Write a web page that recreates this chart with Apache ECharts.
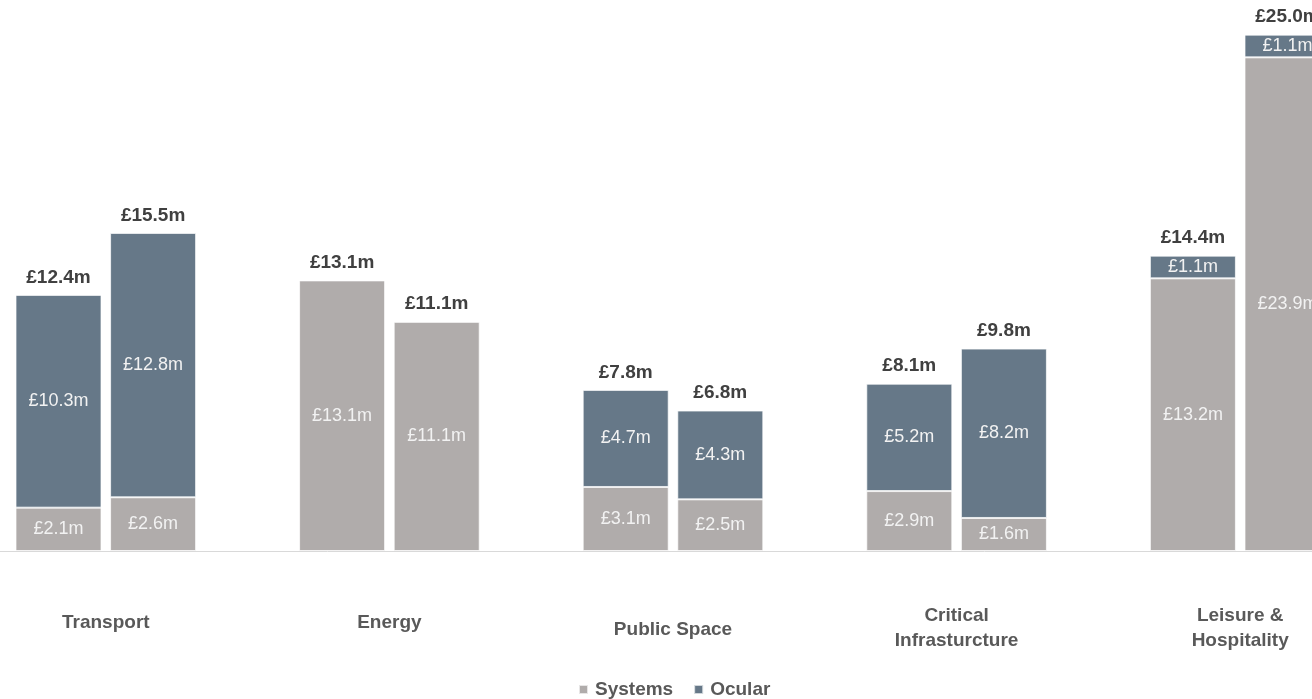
<!DOCTYPE html>
<html>
<head>
<meta charset="utf-8">
<title>Systems and Ocular by sector</title>
<script src="https://cdn.jsdelivr.net/npm/echarts@6/dist/echarts.min.js"></script>
<style>
  html, body { margin: 0; padding: 0; background: #fff; }
  #chart { width: 1312px; height: 699px; }
</style>
</head>
<body>
<div id="chart"></div>
<script>
// categories and values (£m)
var categories = ['Transport', 'Energy', 'Public Space', 'Critical\nInfrasturcture', 'Leisure &\nHospitality']
var systemsA = [2.1, 13.1, 3.1, 2.9, 13.2]
var ocularA = [10.3, 0, 4.7, 5.2, 1.1]
var systemsB = [2.6, 11.1, 2.5, 1.6, 23.9]
var ocularB = [12.8, 0, 4.3, 8.2, 1.1]
var totalsA = [12.4, 13.1, 7.8, 8.1, 14.4]
var totalsB = [15.5, 11.1, 6.8, 9.8, 25.0]

var FONT = "'Liberation Sans', Arial, sans-serif"
var GREY = '#b0acab'
var SLATE = '#667888'

function money(v) {
  return '£' + Number(v).toFixed(1) + 'm'
}

var innerLabel = {
  show: true,
  position: 'inside',
  color: '#f2f2f2',
  fontFamily: FONT,
  fontSize: 18,
  formatter: function(p) { return p.value ? money(p.value) : '' }
}

function part(name, stack, color, data) {
  return {
    name: name,
    type: 'bar',
    stack: stack,
    barWidth: 86,
    barGap: '10%',
    itemStyle: { color: color, borderColor: 'rgba(255,255,255,0.7)', borderWidth: 1 },
    label: innerLabel,
    emphasis: { disabled: true },
    data: data
  }
}

function total(stack, totals) {
  return {
    name: 'Total ' + stack,
    type: 'bar',
    stack: stack,
    barWidth: 86,
    barGap: '10%',
    itemStyle: { color: 'rgba(0,0,0,0)', borderWidth: 0 },
    label: {
      show: true,
      position: 'top',
      distance: 8,
      color: '#404040',
      fontFamily: FONT,
      fontWeight: 'bold',
      fontSize: 19,
      formatter: function(p) { return money(totals[p.dataIndex]) }
    },
    emphasis: { disabled: true },
    data: totals.map(function() { return 0 })
  }
}

// category labels sit at slightly different heights in the original
function catLabel(value) {
  var lines = value.split('\n')
  if (lines.length > 1) {
    return lines.map(function(l) { return '{two|' + l + '}' }).join('\n')
  }
  if (value === 'Public Space') return '{low|' + value + '}'
  return '{n|' + value + '}'
}

var chart = echarts.init(document.getElementById('chart'))
chart.setOption({
  animation: false,
  textStyle: { fontFamily: FONT },
  grid: {
    left: -36,
    right: -70,
    top: 14,
    bottom: 148,
    containLabel: false,
    outerBoundsMode: 'none'
  },
  legend: {
    data: ['Systems', 'Ocular'],
    top: 675,
    left: 573,
    icon: 'rect',
    itemWidth: 9,
    itemHeight: 9,
    itemGap: 20,
    textStyle: { color: '#595959', fontWeight: 'bold', fontSize: 19, fontFamily: FONT, padding: [0, 0, 0, 2] }
  },
  xAxis: {
    type: 'category',
    data: categories,
    axisLine: { lineStyle: { color: '#d9d9d9', width: 1 } },
    axisTick: { show: false },
    axisLabel: {
      interval: 0,
      margin: 72,
      verticalAlign: 'middle',
      color: '#595959',
      fontFamily: FONT,
      fontWeight: 'bold',
      fontSize: 19,
      lineHeight: 25,
      formatter: catLabel,
      rich: {
        n: { fontSize: 19, fontWeight: 'bold', color: '#595959', lineHeight: 25 },
        two: { fontSize: 19, fontWeight: 'bold', color: '#595959', lineHeight: 25, padding: [10, 0, 0, 0] },
        low: { fontSize: 19, fontWeight: 'bold', color: '#595959', lineHeight: 25, padding: [14, 0, 0, 0] }
      }
    }
  },
  yAxis: {
    type: 'value',
    min: 0,
    max: 26,
    show: false,
    splitLine: { show: false }
  },
  series: [
    part('Systems', 'A', GREY, systemsA),
    part('Ocular', 'A', SLATE, ocularA),
    total('A', totalsA),
    part('Systems', 'B', GREY, systemsB),
    part('Ocular', 'B', SLATE, ocularB),
    total('B', totalsB)
  ]
})
</script>
</body>
</html>
